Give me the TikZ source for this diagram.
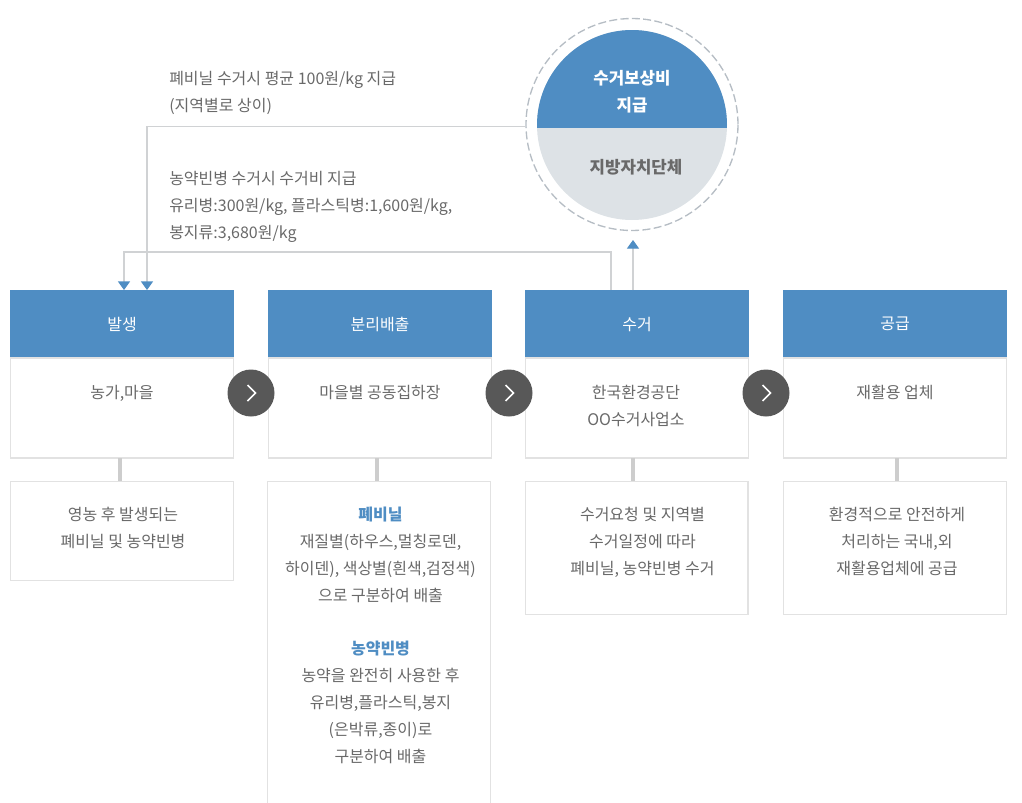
\documentclass[tikz,border=0pt]{standalone}
\usepackage{fontspec}
\setmainfont{Noto Sans CJK KR}
\usetikzlibrary{arrows.meta,positioning,calc}

\definecolor{headblue}{RGB}{79,141,195}
\definecolor{linegray}{RGB}{208,210,212}
\definecolor{dashgray}{RGB}{182,189,196}
\definecolor{boxgray}{RGB}{226,226,226}
\definecolor{stemgray}{RGB}{205,205,205}
\definecolor{softgray}{RGB}{221,226,230}
\definecolor{textgray}{RGB}{105,105,105}
\definecolor{btngray}{RGB}{88,88,88}

\tikzset{
  every node/.style={font=\fontsize{12}{20.25}\selectfont, text=textgray},
  headbox/.style={rectangle, fill=headblue, minimum width=168pt, minimum height=50.25pt, inner sep=0pt, text=white},
  bodybox/.style={rectangle, draw=boxgray, line width=1pt, fill=white, minimum width=167pt, inner sep=0pt},
  linetext/.style={align=center, inner sep=0pt, anchor=north},
  leftnote/.style={align=left, inner sep=0pt, anchor=north west},
  link/.style={draw=linegray, line width=0.8pt},
  tipped/.style={link, -{Triangle[length=6.4pt,width=9pt,color=headblue]}},
  stem/.style={draw=stemgray, line width=3pt},
  nextbtn/.style={circle, fill=btngray, minimum size=35.25pt, inner sep=0pt},
  chevron/.style={draw=white, line width=1.1pt}
}

\begin{document}
\begin{tikzpicture}[x=0.75pt, y=-0.75pt]
\useasboundingbox (0,0) rectangle (1022,803);

% Four stages
\foreach \i/\x/\title in {1/122/발생, 2/380/분리배출, 3/637/수거, 4/895/공급} {
  \node[headbox, text depth=-1pt] (head\i) at (\x, 323.5) {\title};
  \node[bodybox, minimum height=75pt, below=0pt of head\i] (body\i) {};
}

% Stage places
\node[linetext] (place1) at (122, 385) {농가,마을};
\node[linetext] (place2) at (380, 385) {마을별 공동집하장};
\node[linetext] (place3) at (636, 385) {한국환경공단\\OO수거사업소};
\node[linetext] (place4) at (895, 385) {재활용 업체};

% Detail boxes
\node[bodybox, minimum height=74.25pt, anchor=north] (info1) at (122, 481) {};
\node[bodybox, minimum height=252pt, anchor=north] (info2) at (379, 481) {};
\node[bodybox, minimum height=99.75pt, anchor=north] (info3) at (636.5, 481) {};
\node[bodybox, minimum height=99.75pt, anchor=north] (info4) at (895, 481) {};

\node[linetext] (detail1) at (123, 507) {영농 후 발생되는\\폐비닐 및 농약빈병};
\node[linetext] (detail2) at (380.5, 507) {\textcolor{headblue}{\textbf{폐비닐}}\\재질별(하우스,멀칭로덴,\\하이덴), 색상별(흰색,검정색)\\으로 구분하여 배출\\[19.5pt]\textcolor{headblue}{\textbf{농약빈병}}\\농약을 완전히 사용한 후\\유리병,플라스틱,봉지\\(은박류,종이)로\\구분하여 배출};
\node[linetext] (detail3) at (642.5, 507) {수거요청 및 지역별\\수거일정에 따라\\폐비닐, 농약빈병 수거};
\node[linetext] (detail4) at (897, 507) {환경적으로 안전하게\\처리하는 국내,외\\재활용업체에 공급};

% Stems between boxes
\draw[stem] (120, 458) -- (120, 481);
\draw[stem] (377, 458) -- (377, 481);
\draw[stem] (633, 458) -- (633, 481);
\draw[stem] (897, 458) -- (897, 481);

% Next buttons
\foreach \i/\x in {1/251, 2/509, 3/766} {
  \node[nextbtn] (btn\i) at (\x, 393) {};
  \draw[chevron] ($(btn\i.center)+(-3.5,-8)$) -- ($(btn\i.center)+(4.5,0)$) -- ($(btn\i.center)+(-3.5,8)$);
}

% Subsidy circle
\node[circle, draw=dashgray, dash pattern=on 6pt off 2.5pt, line width=1pt, minimum size=159pt, inner sep=0pt] (subsidy) at (632, 124.5) {};
\fill[softgray] (632, 125) circle (95);
\begin{scope}
  \clip (632, 125) circle (95);
  \fill[headblue] (530, 20) rectangle (735, 128);
\end{scope}
\node[linetext, text=white, font=\fontsize{12.6}{20.25}\selectfont\bfseries] (paytext) at (632, 70) {수거보상비\\지급};
\node[linetext, font=\fontsize{12.6}{20.25}\selectfont\bfseries] (citytext) at (636, 159) {지방자치단체};

% Notes
\node[leftnote] (note1) at (169, 71) {폐비닐 수거시 평균 100원/kg 지급\\(지역별로 상이)};
\node[leftnote] (note2) at (169, 171) {농약빈병 수거시 수거비 지급\\유리병:300원/kg, 플라스틱병:1,600원/kg,\\봉지류:3,680원/kg};

% Connectors
\coordinate (payin) at (147, 290);
\coordinate (feein) at (124, 290);
\coordinate (feeout) at (611, 290);
\coordinate (upout) at (633, 290);
\coordinate (upin) at (633, 240);
\draw[tipped] (subsidy.181) -| (payin);
\draw[tipped] (feeout) -- ++(0, -38) -| (feein);
\draw[tipped] (upout) -- (upin);

\end{tikzpicture}
\end{document}
